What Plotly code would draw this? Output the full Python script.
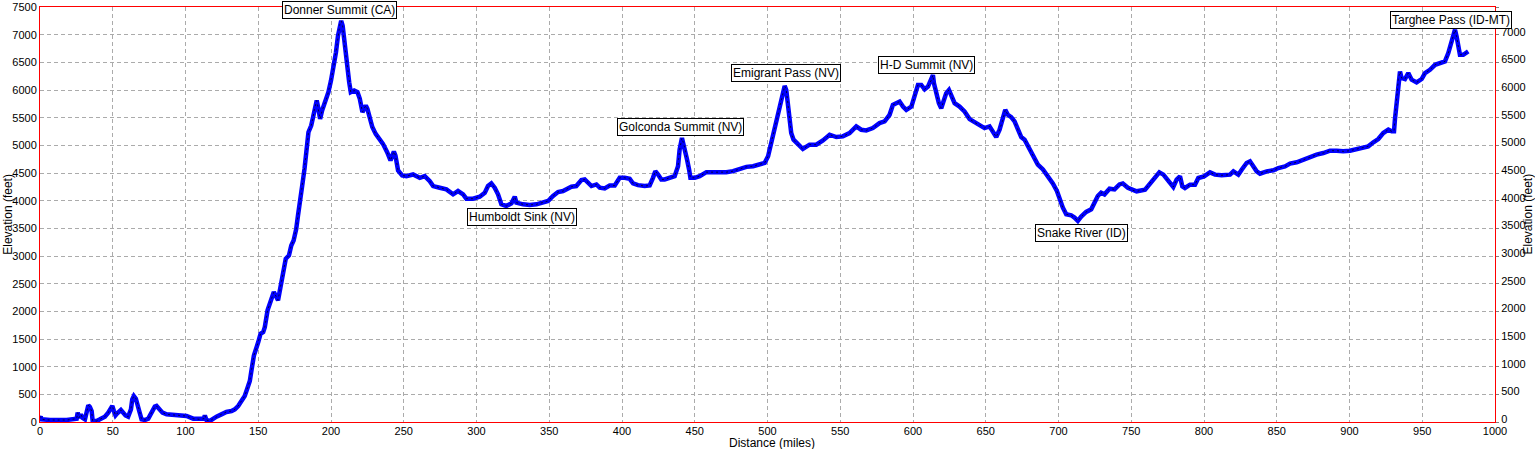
import plotly.graph_objects as go

# Route elevation profile (distance in miles, elevation in feet)
miles = [0, 0.5, 1.1, 6.9, 18.3, 21.7, 25.2, 25.9, 26.8, 28.1, 29.1, 30.9, 32, 33.2, 34.3, 35.5, 36.2, 38.9,
         41.2, 44.6, 46.9, 48.5, 49.7, 50.8, 51.9, 53.1, 54.5, 55.6, 57.2, 58.8, 60.6, 61.3, 62.5, 63.4, 64.5,
         65.9, 67, 68.2, 69.8, 72.1, 74.4, 76.7, 78.9, 80.1, 81.9, 84.2, 87, 91.5, 96.1, 100.7, 105.3, 109.8,
         112.6, 113.3, 114.4, 116.7, 119, 121.3, 124.7, 128.1, 131.6, 133.9, 136.2, 138.4, 140.7, 142.3, 144.2,
         145.5, 147, 150, 151.6, 153.4, 154.5, 156.4, 159, 160.7, 163.6, 165.2, 167, 168.9, 171.1, 172.7, 174.3,
         176.1, 177.3, 178.9, 180.2, 181.8, 183.4, 184.5, 186.4, 187.5, 188.6, 190.2, 191.4, 192.5, 193.9, 196.6,
         198.2, 200, 201.6, 203.4, 204.8, 206.1, 207, 208, 209.1, 210.2, 211.4, 212.5, 213.6, 215.9, 218.2, 219.8,
         221.6, 223.9, 225, 226.6, 228.4, 230.7, 233, 235.7, 238.6, 240.9, 243.2, 244.3, 246.1, 248.9,
         251.8, 256.4, 261, 264.4, 267.9, 270.2, 274.7, 279.3, 283.9, 287.3, 290.8, 293, 297.6, 302.2, 305.7,
         307.9, 310.2, 312.5, 314.8, 317.1, 320.5, 324, 326.3, 327.4, 332, 336.6, 341.2, 345.7, 349.2, 352.6,
         356, 359.5, 362.9, 365.2, 368.6, 372.1, 374.4, 376.7, 379, 382.4, 384.7, 388.1, 391.5, 395, 398.4,
         401.9, 405.3, 407.6, 411, 415.6, 419, 421.3, 422.9, 424.8, 427, 429.3, 432.8, 436.2, 438.5, 439.6,
         441.2, 442.4, 443.5, 444.7, 446.1, 447, 450, 453.4, 458, 462.5, 467.1, 471.7, 476.3, 480.9, 485.5,
         490.1, 494.6, 498.1, 500.4,
         502.7, 505, 508.3, 510.1, 511.8, 512.9, 514, 515.2, 516.3, 517.9, 520.9, 524.3, 528.9, 533.5, 538.1,
         542.7, 547.3, 551.8, 556.4, 561, 564.4, 567.9, 572.4, 577, 580.5, 583.9, 586.2, 588.5, 590.8, 593.1,
         595.4, 598.9, 601.2, 603.4, 605.7, 608, 610.3, 612.6, 613.7, 614.4, 616, 617.8, 619.4, 621, 622.8,
         624.7, 626.3, 628.6, 632, 635.4, 638.9, 642.3, 645.7, 649.2, 652.6, 654.9, 657.2, 659.5, 661.8, 663.4,
         665.2, 667.5, 669.8, 672.1, 674.4, 676.7, 679, 682.4, 685.8, 689.3, 692.7, 696.1, 698.9, 700.7, 703,
         705.3, 708.7, 711, 713.3, 715.6, 719, 722.5, 724.8, 727, 729.3, 731.6, 735.1, 738.5, 741.9, 744.2,
         747.7, 751.1,
         753.7, 759.5, 762.9, 766.3, 769.3, 772.1, 775.5, 778.9, 781.2, 783.5, 785.1, 786.9, 790.4, 793.8,
         796.1, 800, 804.1, 807.6, 812.1, 817.9, 820.2, 823.6, 825.9, 829.3, 831.6, 833.9, 836.2, 838.5, 843.1,
         847.7, 851.1, 855.7, 859.1, 863.7, 868.3, 872.8, 877.4, 882, 886.6, 891.2, 895.7, 900.3, 904.9, 909.5,
         912.9, 916.4, 919.8, 923.2, 926.7, 929, 930.6, 931.2, 932.4, 933.5, 934.7, 935.8, 938.1, 940.4, 942.7,
         946.1, 949.6, 951.9, 955.3, 958.8, 963.3, 965.6, 967.9, 969.5, 971.3, 972.5, 973.6, 974.8, 975.9,
         978.2, 980.5, 981.6]

elev = [80, 96, 48, 36, 36, 48, 60, 169, 78, 138, 78, 48, 199, 301, 271, 199, 18, 18,
        48, 96, 169, 259, 289, 199, 120, 157, 199, 217, 169, 120, 96, 169, 229, 409, 470,
        421, 337, 199, 48, 36, 60, 169, 277, 289, 229, 169, 138, 126, 120, 108, 60, 48,
        60, 120, 36, 18, 60, 96, 138, 181, 199, 229, 289, 379, 470, 590, 740,
        960, 1200, 1445, 1595, 1625, 1715, 2017, 2227, 2348, 2200, 2440, 2650, 2950, 3010, 3190, 3280,
        3490, 3730, 3970, 4270, 4575, 4936, 5237, 5358, 5478, 5660, 5810, 5660, 5478, 5630, 5810,
        5960, 6170, 6380, 6680, 6980, 7190, 7250, 7160, 6860, 6620, 6380, 6140, 5960, 5990, 5960, 5840,
        5600, 5720, 5660, 5478, 5330, 5207, 5117, 5027, 4876, 4726, 4888, 4816, 4545, 4455,
        4443, 4473, 4413, 4443, 4353, 4264, 4234, 4204, 4114, 4174, 4114, 4036, 4036, 4072, 4144,
        4264, 4311, 4234, 4114, 3934, 3904, 3952, 4072, 3964, 3934, 3922, 3934, 3964, 3994, 4084,
        4156, 4174, 4216, 4252, 4264, 4371, 4383, 4323, 4264, 4293, 4234, 4222, 4275, 4275, 4413,
        4413, 4395, 4311, 4281, 4264, 4275, 4413, 4533, 4473, 4383, 4383, 4413, 4443, 4623, 4922,
        5132, 5012, 4922, 4743, 4563, 4413, 4413, 4443, 4515, 4515, 4503, 4515, 4533, 4575, 4611,
        4623, 4653, 4683, 4803,
        5072, 5342, 5671, 5881, 6073, 6001, 5761, 5462, 5222, 5102, 5012, 4934, 5012, 5012, 5090,
        5192, 5150, 5162, 5222, 5342, 5282, 5270, 5312, 5402, 5432, 5551, 5731, 5761, 5791, 5701,
        5641, 5701, 5881, 6091, 6091, 6013, 6061, 6180, 6270, 6121, 5941, 5761, 5671, 5791, 5941,
        6001, 5893, 5761, 5701, 5611, 5474, 5414, 5372, 5312, 5342, 5252, 5150, 5282, 5462, 5641,
        5551, 5509, 5432, 5282, 5150, 5102, 4982, 4803, 4653, 4563, 4443, 4311, 4174, 4024, 3874,
        3754, 3736, 3694, 3635, 3712, 3796, 3844, 3994, 4084, 4144, 4114, 4216, 4204, 4293, 4311,
        4234, 4186,
        4169, 4199, 4319, 4440, 4512, 4470, 4350, 4247, 4380, 4440, 4259, 4229, 4289, 4289,
        4410, 4440, 4512, 4470, 4458, 4470, 4530, 4470, 4560, 4681, 4711, 4620, 4530, 4488, 4530,
        4548, 4590, 4620, 4669, 4693, 4741, 4789, 4831, 4861, 4903, 4903, 4891, 4903, 4933, 4951,
        4982, 5054, 5114, 5222, 5283, 5253, 5253, 5463, 5824, 6186, 6336, 6216, 6198, 6306, 6186,
        6137, 6198, 6306, 6366, 6456, 6499, 6517, 6667, 6818, 6998, 7089, 6968, 6757, 6637,
        6637, 6679, 6697]

# Place labels (text, mile, elevation-ft of label centre)
label_text = ["Donner Summit (CA)", "Humboldt Sink (NV)", "Golconda Summit (NV)", "Emigrant Pass (NV)",
              "H-D Summit (NV)", "Snake River (ID)", "Targhee Pass (ID-MT)"]
label_mile = [205.5, 331.6, 440.0, 512.4, 609.6, 715.5, 970.0]
label_elev = [7445, 3704, 5330, 6306, 6460, 3415, 7264]

x_ticks = list(range(0, 1001, 50))
y_ticks = list(range(0, 7501, 500))

FONT = "Liberation Sans, Arial, sans-serif"
GRID = "#ABABAB"

fig = go.Figure()
fig.add_trace(go.Scatter(x=miles, y=elev, mode="lines",
                         line=dict(color="#0000FF", width=4.5),
                         hoverinfo="skip", showlegend=False))
fig.add_trace(go.Scatter(x=miles, y=elev, mode="lines", yaxis="y2",
                         line=dict(color="rgba(0,0,0,0.75)", width=1, dash="2px,3px"),
                         hoverinfo="skip", showlegend=False))

for t, m, e in zip(label_text, label_mile, label_elev):
    fig.add_annotation(x=m, y=e, xref="x", yref="y", text=t, showarrow=False,
                       font=dict(family=FONT, size=12, color="black"),
                       bgcolor="white", bordercolor="black", borderwidth=1, borderpad=1)

axis_font = dict(family=FONT, size=11, color="black")

fig.update_layout(
    width=1535, height=449,
    margin=dict(l=40, r=40, t=7, b=27, pad=0),
    paper_bgcolor="white", plot_bgcolor="white",
    showlegend=False,
    xaxis=dict(range=[0, 1000], tickvals=x_ticks, ticktext=[str(v) for v in x_ticks],
               showgrid=True, gridcolor=GRID, griddash="4px,3px", gridwidth=1,
               showline=True, linecolor="#FF0000", linewidth=1, mirror=True,
               ticks="", ticklen=0, ticklabelstandoff=-1,
               tickfont=axis_font, zeroline=False, automargin=False),
    yaxis=dict(range=[0, 7500], tickvals=y_ticks, ticktext=[str(v) for v in y_ticks],
               showgrid=True, gridcolor=GRID, griddash="4px,3px", gridwidth=1,
               showline=True, linecolor="#FF0000", linewidth=1, mirror=True,
               ticks="", ticklen=0,
               tickfont=axis_font, zeroline=False, automargin=False),
    yaxis2=dict(range=[0, 7500], tickvals=y_ticks, ticktext=[str(v) for v in y_ticks],
                overlaying="y", side="right", showgrid=False,
                showline=True, linecolor="#FF0000", linewidth=1,
                ticks="outside", ticklen=3, tickcolor="#808080", ticklabelshift=-3,
                tickfont=axis_font, zeroline=False, automargin=False),
)

# Axis titles
fig.add_annotation(text="Elevation (feet)", xref="paper", yref="paper", x=-0.0225, y=0.5,
                   textangle=-90, showarrow=False, font=dict(family=FONT, size=12, color="black"),
                   xanchor="center", yanchor="middle")
fig.add_annotation(text="Elevation (feet)", xref="paper", yref="paper", x=1.022, y=0.5,
                   textangle=-90, showarrow=False, font=dict(family=FONT, size=12, color="black"),
                   xanchor="center", yanchor="middle")
fig.add_annotation(text="Distance (miles)", xref="paper", yref="paper", x=0.5034, y=-0.0505,
                   showarrow=False, font=dict(family=FONT, size=12, color="black"),
                   xanchor="center", yanchor="middle")

fig.write_html("out.html", config={"displayModeBar": False})

# remove default page margins so the figure sits at the window origin
with open("out.html", "r", encoding="utf-8") as f:
    html = f.read()
html = html.replace("<head>", "<head><style>html,body{margin:0;padding:0;overflow:hidden;}</style>", 1)
with open("out.html", "w", encoding="utf-8") as f:
    f.write(html)
